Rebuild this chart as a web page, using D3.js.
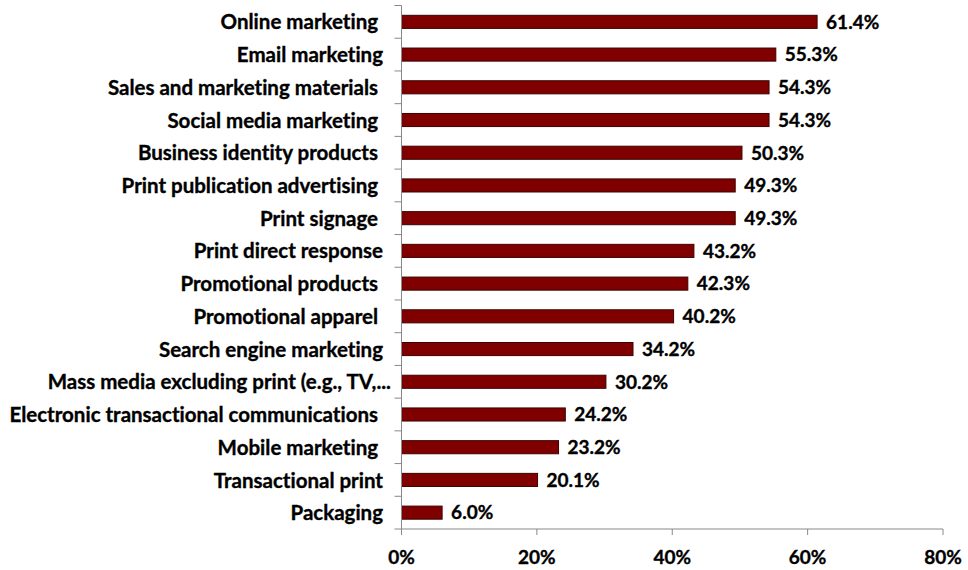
<!DOCTYPE html>
<html>
<head>
<meta charset="utf-8">
<script src="https://cdn.jsdelivr.net/npm/d3@7"></script>
<style>
  html, body { margin: 0; padding: 0; background: #ffffff; }
  svg { display: block; }
  text {
    font-family: Lato, "Open Sans", sans-serif;
    font-weight: 700;
    fill: #000;
    stroke: #000;
    stroke-width: 0.35px;
    white-space: pre;
    font-variant-ligatures: none;
    font-feature-settings: "liga" 0, "clig" 0;
  }
</style>
</head>
<body>
<svg id="chart" width="968" height="570"></svg>
<script>
// Marketing channels, top to bottom (trailing spaces kept as in the source labels)
const categories = [
  "Online marketing ",
  "Email marketing",
  "Sales and marketing materials ",
  "Social media marketing ",
  "Business identity products ",
  "Print publication advertising ",
  "Print signage ",
  "Print direct response",
  "Promotional products ",
  "Promotional apparel ",
  "Search engine marketing",
  "Mass media excluding print (e.g., TV,...",
  "Electronic transactional communications ",
  "Mobile marketing ",
  "Transactional print",
  "Packaging"
];

// Share of respondents, in percent
const values = [61.4, 55.3, 54.3, 54.3, 50.3, 49.3, 49.3, 43.2, 42.3, 40.2, 34.2, 30.2, 24.2, 23.2, 20.1, 6.0];

// Horizontal axis ticks, in percent
const tickValues = [0, 20, 40, 60, 80];

const svg = d3.select("#chart");

const plotLeft = 401.5, plotRight = 943, plotTop = 5.5, plotBottom = 529;

const x = d3.scaleLinear().domain([0, 80]).range([plotLeft, plotRight]);
const y = d3.scaleBand()
  .domain(d3.range(categories.length))
  .range([plotTop, plotBottom])
  .paddingInner(0.6)
  .paddingOuter(0.3);

const axisColor = "#888888";

// Bars
svg.append("g")
  .selectAll("rect")
  .data(values)
  .join("rect")
  .attr("x", x(0))
  .attr("y", (d, i) => y(i))
  .attr("width", d => x(d) - x(0))
  .attr("height", y.bandwidth())
  .attr("fill", "#800000")
  .attr("stroke", "#3d0000")
  .attr("stroke-width", 1);

// Value labels at bar ends
svg.append("g")
  .selectAll("text")
  .data(values)
  .join("text")
  .attr("x", d => x(d) + 9)
  .attr("y", (d, i) => y(i) + y.bandwidth() / 2)
  .attr("dy", "0.36em")
  .style("font-size", "19px")
  .text(d => d.toFixed(1) + "%");

// Vertical category axis: line, ticks at band boundaries, labels
const yAxis = svg.append("g");
yAxis.append("line")
  .attr("x1", plotLeft).attr("x2", plotLeft)
  .attr("y1", plotTop).attr("y2", plotBottom)
  .attr("stroke", axisColor);
yAxis.selectAll("line.tick")
  .data(d3.range(categories.length + 1))
  .join("line")
  .attr("class", "tick")
  .attr("x1", plotLeft - 7).attr("x2", plotLeft)
  .attr("y1", i => plotTop + i * y.step())
  .attr("y2", i => plotTop + i * y.step())
  .attr("stroke", axisColor);
yAxis.selectAll("text")
  .data(categories)
  .join("text")
  .attr("x", d => d.endsWith("...") ? 391 : 383)
  .attr("y", (d, i) => y(i) + y.bandwidth() / 2)
  .attr("dy", "0.37em")
  .attr("text-anchor", "end")
  .style("font-size", "20.5px")
  .text(d => d);

// Horizontal value axis
const xAxis = svg.append("g");
xAxis.append("line")
  .attr("x1", plotLeft).attr("x2", plotRight)
  .attr("y1", plotBottom).attr("y2", plotBottom)
  .attr("stroke", axisColor);
xAxis.selectAll("line.tick")
  .data(tickValues)
  .join("line")
  .attr("class", "tick")
  .attr("x1", d => x(d)).attr("x2", d => x(d))
  .attr("y1", plotBottom).attr("y2", plotBottom + 6)
  .attr("stroke", axisColor);
xAxis.selectAll("text")
  .data(tickValues)
  .join("text")
  .attr("x", d => x(d))
  .attr("y", 564)
  .attr("text-anchor", "middle")
  .style("font-size", "19px")
  .text(d => d + "%");
</script>
</body>
</html>
